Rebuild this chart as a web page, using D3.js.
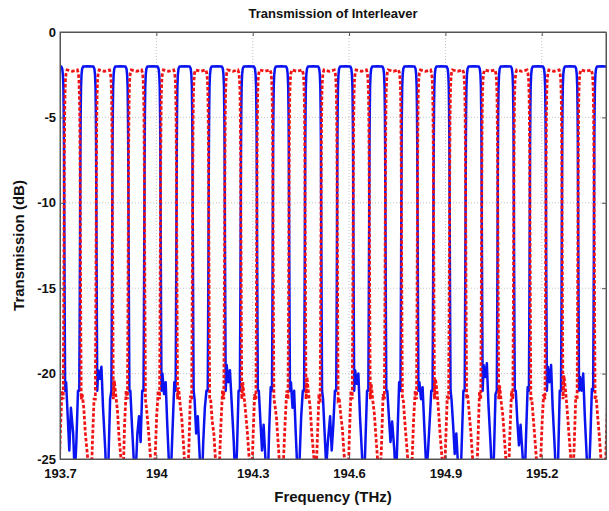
<!DOCTYPE html>
<html>
<head>
<meta charset="utf-8">
<script src="https://cdnjs.cloudflare.com/ajax/libs/d3/7.8.5/d3.min.js"></script>
<style>
  body { margin: 0; background: #fff; }
  svg { display: block; font-family: "Liberation Sans", Arial, sans-serif; font-weight: bold; }
</style>
</head>
<body>
<script>
// tick labels
var xTicks = [193.7, 194, 194.3, 194.6, 194.9, 195.2];
var yTicks = [0, -5, -10, -15, -20, -25];

// channel centres (THz), 100 GHz grid, the two outputs offset by 50 GHz
var blueCenters = [193.688, 193.788, 193.888, 193.988, 194.088, 194.188, 194.288, 194.388, 194.488,
                   194.588, 194.688, 194.788, 194.888, 194.988, 195.088, 195.188, 195.288, 195.388];
var redCenters = [193.638, 193.738, 193.838, 193.938, 194.038, 194.138, 194.238, 194.338, 194.438, 194.538,
                  194.638, 194.738, 194.838, 194.938, 195.038, 195.138, 195.238, 195.338, 195.438];

// passband shape, offset from centre in GHz -> dB
var bandOffsets = [-28, -26.8, -25.8, -25, -24.3, -23.5, -22.5, -21, -19, -16, 0, 16, 19, 21, 22.5, 23.5, 24.3, 25, 25.8, 26.8, 28];
var blueBand = [-21, -17, -13, -9.5, -6.5, -4.6, -3.2, -2.5, -2.15, -2.02, -2.0, -2.02, -2.15, -2.5, -3.2, -4.6, -6.5, -9.5, -13, -17, -21];
var redBand = [-21.5, -17.5, -13.5, -10, -7, -5, -3.6, -2.8, -2.4, -2.22, -2.3, -2.22, -2.4, -2.8, -3.6, -5, -7, -10, -13.5, -17.5, -21.5];

// stopband samples after each channel, offset from its centre in GHz -> dB
var stopOffsets = [31, 36, 41, 46, 53, 58, 63, 68];
var blueStop = [
  [-20.5, -22.5, -24.5, -22, -23.5, -26, -24, -21],
  [-19.8, -20.3, -19.6, -22, -24.5, -27, -25, -21.5],
  [-21, -23, -24.8, -26.5, -23.5, -22.5, -24, -21],
  [-20, -21.2, -20.5, -23, -26, -25.5, -23, -20.5],
  [-21.5, -23.5, -22.5, -24.5, -27, -24, -22, -21],
  [-19.5, -20.5, -19.8, -21.5, -24, -26.5, -24.5, -21],
  [-21, -22.8, -24.5, -23, -25.5, -27, -23.5, -20.8],
  [-20.5, -22, -21, -23.5, -26.5, -25, -22.5, -21],
  [-21.5, -23.5, -25.5, -24, -22.5, -24.5, -23, -21],
  [-19.8, -20.6, -20, -22.5, -25, -27, -24, -21],
  [-21, -22.5, -24, -22.8, -24.5, -26.5, -23.5, -20.5],
  [-20.5, -21.5, -20.8, -23, -25.8, -24.5, -22.8, -21],
  [-21.5, -23, -24.7, -23.5, -26, -27, -24, -21],
  [-19.5, -20.2, -19.4, -21.8, -24.3, -26.5, -24.8, -21.2],
  [-21, -22.8, -24.2, -23, -25, -26.8, -23.7, -20.8],
  [-19.6, -20.5, -19.5, -22, -24.6, -27, -25, -21],
  [-20.2, -21, -20, -22.5, -25.3, -26.5, -24, -20.9]
];
var redStop = [
  [-21, -22.5, -24, -23, -25, -26.5, -23.5, -21],
  [-21.2, -22, -23.5, -24.5, -25.8, -27, -24, -21.5],
  [-20.4, -21.3, -22.2, -23.8, -25.2, -26.5, -23, -21],
  [-22, -23, -24.2, -25.5, -27, -25, -22.5, -21],
  [-20.8, -21.8, -22.6, -24, -26, -27, -24.5, -21.3],
  [-21.5, -22.8, -23.5, -25, -26.5, -25.5, -23, -21],
  [-20.5, -21.5, -22.5, -23.6, -25.5, -26.8, -23.8, -21.2],
  [-21.8, -22.6, -24, -25.4, -26.8, -25, -22.8, -21],
  [-20.2, -21.2, -22, -23.5, -25, -26.5, -24, -21.4],
  [-21.4, -22.4, -23.2, -24.6, -26.2, -27, -23.6, -21],
  [-20.6, -21.6, -22.4, -23.8, -25.6, -26.4, -24.2, -21.2],
  [-21.6, -22.9, -24.1, -25.3, -27, -25.2, -22.7, -21],
  [-20.3, -21.1, -22.3, -23.7, -25.3, -26.7, -23.9, -21.3],
  [-21.2, -22.3, -23.4, -24.8, -26.4, -26.9, -24.1, -21.1],
  [-20.7, -21.7, -22.5, -23.9, -25.7, -26.3, -23.4, -21],
  [-21.5, -22.7, -23.9, -25.2, -26.8, -25.4, -22.9, -21.2],
  [-20.1, -21, -22.1, -23.4, -25.1, -26.6, -24.2, -21.3],
  [-21.3, -22.5, -23.6, -24.9, -26.3, -27, -23.8, -21]
];

var W = 609, H = 511;
var m = { left: 60, right: 3, top: 32, bottom: 52 };

var svg = d3.select("body").append("svg")
  .attr("width", W).attr("height", H);

var x = d3.scaleLinear().domain([193.7, 195.4]).range([m.left, W - m.right]);
var y = d3.scaleLinear().domain([-25, 0]).range([H - m.bottom, m.top]);

function trace(centers, band, stops) {
  var pts = [];
  centers.forEach(function(c, i) {
    bandOffsets.forEach(function(o, j) { pts.push([c + o / 1000, band[j]]); });
    if (stops[i]) stopOffsets.forEach(function(o, j) { pts.push([c + o / 1000, stops[i][j]]); });
  });
  return pts;
}

svg.append("clipPath").attr("id", "plot")
  .append("rect")
  .attr("x", x.range()[0]).attr("y", y.range()[1])
  .attr("width", x.range()[1] - x.range()[0])
  .attr("height", y.range()[0] - y.range()[1]);

// grid
svg.append("g").selectAll("line").data(xTicks.slice(1))
  .enter().append("line")
  .attr("x1", function(d) { return x(d); }).attr("x2", function(d) { return x(d); })
  .attr("y1", y(0)).attr("y2", y(-25))
  .style("stroke", "#c4c4c4").style("stroke-dasharray", "1,2");
svg.append("g").selectAll("line").data(yTicks.slice(1, -1))
  .enter().append("line")
  .attr("x1", x(193.7)).attr("x2", x(195.4))
  .attr("y1", function(d) { return y(d); }).attr("y2", function(d) { return y(d); })
  .style("stroke", "#c4c4c4").style("stroke-dasharray", "1,2");

var line = d3.line()
  .x(function(d) { return x(d[0]); })
  .y(function(d) { return y(d[1]); });

var curves = svg.append("g").attr("clip-path", "url(#plot)");
curves.append("path")
  .attr("d", line(trace(blueCenters, blueBand, blueStop)))
  .style("fill", "none").style("stroke", "#0a14f0").style("stroke-width", 2.5)
  .style("stroke-linejoin", "round");
curves.append("path")
  .attr("d", line(trace(redCenters, redBand, redStop)))
  .style("fill", "none").style("stroke", "#f01414").style("stroke-width", 2.8)
  .style("stroke-dasharray", "3.5,2");

// axes
var xAxis = d3.axisBottom(x).tickValues(xTicks).tickSizeInner(-4).tickSizeOuter(0)
  .tickPadding(10).tickFormat(function(d) { return String(d); });
var yAxis = d3.axisLeft(y).tickValues(yTicks).tickSizeInner(-4).tickSizeOuter(0)
  .tickPadding(4).tickFormat(function(d) { return String(d); });

svg.append("g").attr("transform", "translate(0," + y(-25) + ")").call(xAxis);
svg.append("g").attr("transform", "translate(" + x(193.7) + ",0)").call(yAxis);
svg.append("g").attr("transform", "translate(0," + y(0) + ")")
  .call(d3.axisTop(x).tickValues(xTicks).tickSizeInner(-4).tickSizeOuter(0).tickFormat(""));
svg.append("g").attr("transform", "translate(" + x(195.4) + ",0)")
  .call(d3.axisRight(y).tickValues(yTicks).tickSizeInner(-4).tickSizeOuter(0).tickFormat(""));

svg.selectAll(".domain, .tick line").style("stroke", "#555");
svg.selectAll(".tick text").style("font-size", "13px").style("font-weight", "bold").style("fill", "#111")
  .style("font-family", "'Liberation Sans', Arial, sans-serif");

svg.append("rect")
  .attr("x", x(193.7)).attr("y", y(0))
  .attr("width", x(195.4) - x(193.7)).attr("height", y(-25) - y(0))
  .style("fill", "none").style("stroke", "#555");

// labels
svg.append("text")
  .attr("x", (x(193.7) + x(195.4)) / 2).attr("y", 18)
  .attr("text-anchor", "middle").style("font-size", "13px").style("fill", "#111")
  .text("Transmission of Interleaver");
svg.append("text")
  .attr("x", (x(193.7) + x(195.4)) / 2).attr("y", 502)
  .attr("text-anchor", "middle").style("font-size", "15px").style("fill", "#111")
  .text("Frequency (THz)");
svg.append("text")
  .attr("transform", "translate(24," + (y(0) + y(-25)) / 2 + ") rotate(-90)")
  .attr("text-anchor", "middle").style("font-size", "15px").style("fill", "#111")
  .text("Transmission (dB)");
</script>
</body>
</html>
